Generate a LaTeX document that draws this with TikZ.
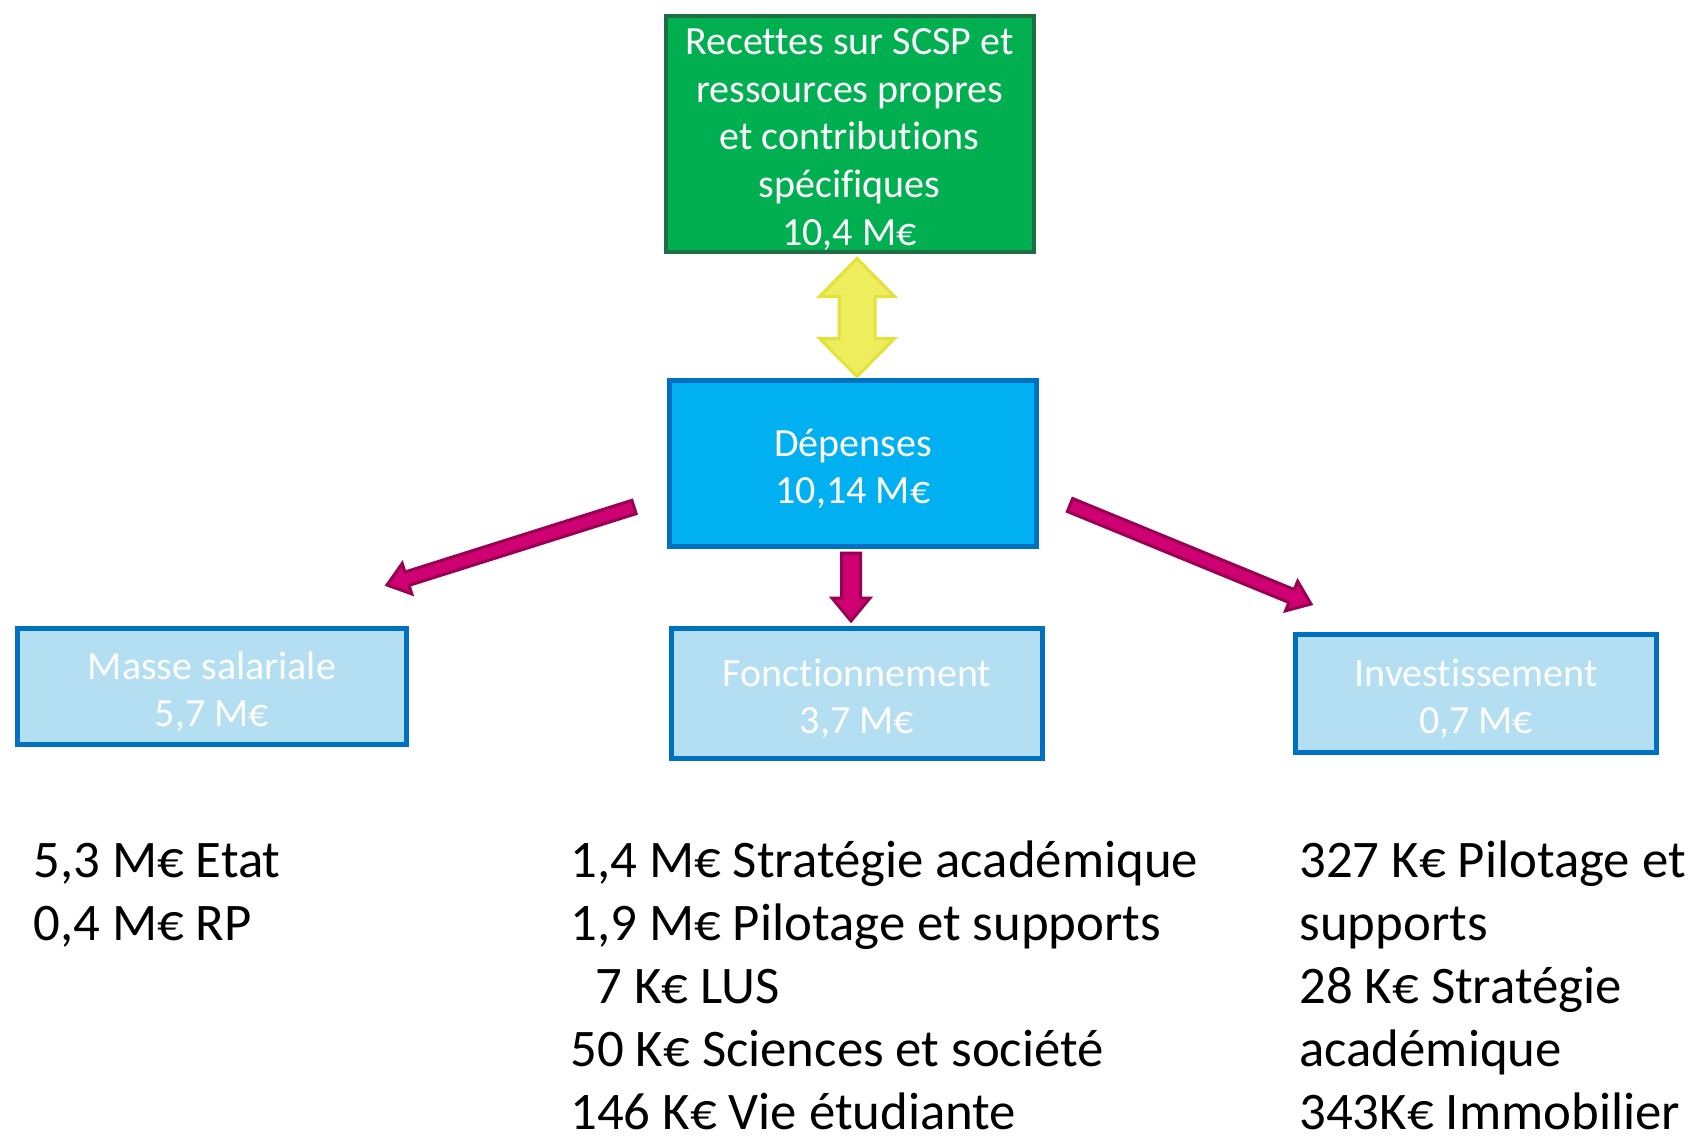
\documentclass[tikz,border=0pt]{standalone}
\usepackage{fontspec}
\setmainfont{Carlito}[Ligatures=NoCommon]
\usepackage{xcolor}
\usepackage{tikz}
\usetikzlibrary{calc}
\definecolor{vertrec}{RGB}{0,176,80}
\definecolor{vertbord}{RGB}{30,110,65}
\definecolor{bleudep}{RGB}{0,176,240}
\definecolor{bleubord}{RGB}{0,112,192}
\definecolor{bleuclair}{RGB}{180,222,242}
\definecolor{jaune}{RGB}{237,237,94}
\definecolor{jaunebord}{RGB}{226,226,58}
\definecolor{rose}{RGB}{206,0,114}
\definecolor{rosebord}{RGB}{153,0,82}

% block arrow: style, from, to, half shaft, half head, head length
\newcommand{\fleche}[6]{%
  \coordinate (fb) at ($(#3)!#6!(#2)$);
  \draw[#1] ($(#2)!#4!90:(#3)$) -- ($(fb)!#4!90:(#3)$) -- ($(fb)!#5!90:(#3)$) -- (#3)
    -- ($(fb)!#5!-90:(#3)$) -- ($(fb)!#4!-90:(#3)$) -- ($(#2)!#4!-90:(#3)$) -- cycle;}
\newcommand{\doublefleche}[6]{%
  \coordinate (fa) at ($(#2)!#6!(#3)$);
  \coordinate (fb) at ($(#3)!#6!(#2)$);
  \draw[#1] (#2) -- ($(fa)!#5!90:(#3)$) -- ($(fa)!#4!90:(#3)$) -- ($(fb)!#4!90:(#3)$)
    -- ($(fb)!#5!90:(#3)$) -- (#3) -- ($(fb)!#5!-90:(#3)$) -- ($(fb)!#4!-90:(#3)$)
    -- ($(fa)!#4!-90:(#3)$) -- ($(fa)!#5!-90:(#3)$) -- cycle;}
% extra room above the first line of a box
\newcommand{\cale}{\rule{0pt}{19pt}}

\tikzset{
  boite/.style={draw, line width=2.5pt, text=white, align=center, inner sep=0pt,
    font=\fontsize{20}{23.8}\selectfont},
  recette/.style={boite, fill=vertrec, draw=vertbord, line width=2pt,
    minimum width=184pt, minimum height=118pt},
  depense/.style={boite, fill=bleudep, draw=bleubord,
    minimum width=183.5pt, minimum height=83pt},
  poste/.style={boite, fill=bleuclair, draw=bleubord},
  liste/.style={anchor=base west, inner sep=0pt, font=\fontsize{26.4}{30}\selectfont},
  flecheJ/.style={fill=jaune, draw=jaunebord, line width=1.5pt},
  flecheR/.style={fill=rose, draw=rosebord, line width=1.5pt}
}

\begin{document}
\begin{tikzpicture}[x=0.5pt,y=-0.5pt]
  \useasboundingbox (0,0) rectangle (1695,1135);
  % boxes
  \node[recette] (rec) at (849.5,133.5)
    {\cale Recettes sur SCSP et\\ressources propres\\et contributions\\spécifiques\\10,4 M€};
  \node[depense] (dep) at (853,463.5) {\cale Dépenses\\10,14 M€};
  \node[poste,minimum width=194.5pt,minimum height=58pt] (sal) at (212,686.5)
    {\cale Masse salariale\\5,7 M€};
  \node[poste,minimum width=185.5pt,minimum height=65pt] (fon) at (857,693.5)
    {\cale Fonctionnement\\3,7 M€};
  \node[poste,minimum width=180.5pt,minimum height=59pt] (inv) at (1476,693.5)
    {\cale Investissement\\0,7 M€};

  % arrows
  \coordinate (jH) at (857,258.5);
  \coordinate (jB) at (857,376.5);
  \doublefleche{flecheJ}{jH}{jB}{9pt}{18.75pt}{19pt}
  \coordinate (gD) at (634,507);
  \coordinate (gA) at (387,585);
  \fleche{flecheR}{gD}{gA}{3.5pt}{8pt}{10.5pt}
  \coordinate (mD) at (851,553);
  \coordinate (mA) at (851,621);
  \fleche{flecheR}{mD}{mA}{4.75pt}{9.5pt}{11.5pt}
  \coordinate (dD) at (1070,505);
  \coordinate (dA) at (1311,604);
  \fleche{flecheR}{dD}{dA}{3.5pt}{8pt}{10.5pt}

  % details
  \foreach \t [count=\i from 0] in {{5,3 M€ Etat},{0,4 M€ RP}}
    \node[liste] (sal\i) at (33,{877+63*\i}) {\t};
  \foreach \t [count=\i from 0] in {{1,4 M€ Stratégie académique},{1,9 M€ Pilotage et supports},
      {\hspace*{12.5pt}7 K€ LUS},{50 K€ Sciences et société},{146 K€ Vie étudiante}}
    \node[liste] (fon\i) at (570,{877+63*\i}) {\t};
  \foreach \t [count=\i from 0] in {{327 K€ Pilotage et},{supports},{28 K€ Stratégie},
      {académique},{343K€ Immobilier}}
    \node[liste] (inv\i) at (1299,{877+63*\i}) {\t};
\end{tikzpicture}
\end{document}
